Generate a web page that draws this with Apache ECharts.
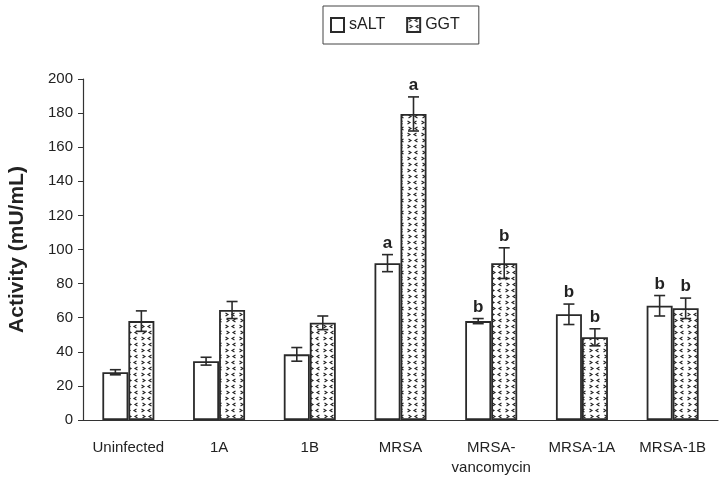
<!DOCTYPE html>
<html><head><meta charset="utf-8">
<script src="https://cdn.jsdelivr.net/npm/echarts@6/dist/echarts.min.js"></script>
<style>html,body{margin:0;padding:0;background:#fff}#c{width:724px;height:481px}</style>
</head><body><div id="c"></div>
<script>
const categories = ['Uninfected', '1A', '1B', 'MRSA', 'MRSA-\nvancomycin', 'MRSA-1A', 'MRSA-1B'];
const saltValues = [28, 34.5, 38.5, 92, 58, 62, 67];
const saltErrors = [1.5, 2.3, 4, 5, 1.5, 6, 6];
const ggtValues = [58, 64.5, 57, 179.5, 92, 48.5, 65.5];
const ggtErrors = [6, 5, 4, 10, 9, 5, 6];
const saltLetters = ['', '', '', 'a', 'b', 'b', 'b'];
const ggtLetters = ['', '', '', 'a', 'b', 'b', 'b'];
const yTicks = [0, 200, 20];

function makePattern() {
  const c = document.createElement('canvas');
  c.width = 14; c.height = 12;
  const g = c.getContext('2d');
  g.fillStyle = '#fff'; g.fillRect(0, 0, 14, 12);
  g.strokeStyle = '#222'; g.lineWidth = 1.1;
  g.beginPath();
  g.moveTo(1.5, 1); g.lineTo(4, 2.5); g.lineTo(1.5, 4);
  g.moveTo(10.5, 1); g.lineTo(8, 2.5); g.lineTo(10.5, 4);
  g.moveTo(11.5, 7); g.lineTo(9, 8.5); g.lineTo(11.5, 10);
  g.moveTo(2.5, 7); g.lineTo(5, 8.5); g.lineTo(2.5, 10);
  g.stroke();
  return c;
}
const pattern = { image: makePattern(), repeat: 'repeat' };
const BW = 26;

function errSeries(name, vals, errs, letters, offset) {
  return {
    type: 'custom', name: name + '_err', z: 5, silent: true,
    data: vals.map((v, i) => [i, v, errs[i]]),
    renderItem: function (params, api) {
      const i = api.value(0), v = api.value(1), e = api.value(2);
      const letter = letters[i];
      const c = api.coord([i, v]);
      const x = c[0] + offset;
      const top = api.coord([i, v + e])[1];
      const bot = api.coord([i, v - e])[1];
      const hw = 5.5;
      const st = { stroke: '#2a2a2a', lineWidth: 1.6 };
      const children = [
        { type: 'line', shape: { x1: x, y1: top, x2: x, y2: bot }, style: st },
        { type: 'line', shape: { x1: x - hw, y1: top, x2: x + hw, y2: top }, style: st },
        { type: 'line', shape: { x1: x - hw, y1: bot, x2: x + hw, y2: bot }, style: st }
      ];
      if (letter) {
        children.push({ type: 'text', style: { x: x, y: top - 3, text: letter, fill: '#222',
          font: 'bold 17px "Liberation Sans", Arial, sans-serif', align: 'center', verticalAlign: 'bottom' } });
      }
      return { type: 'group', children: children };
    }
  };
}

const chart = echarts.init(document.getElementById('c'), null, { renderer: 'canvas' });
chart.setOption({
  animation: false,
  backgroundColor: '#fff',
  textStyle: { fontFamily: '"Liberation Sans", Arial, sans-serif' },
  legend: {
    top: 6, left: 323,
    data: [{ name: 'sALT', icon: 'rect' }, { name: 'GGT', icon: 'rect' }],
    borderColor: '#444', borderWidth: 1, padding: [11, 19, 11, 7],
    itemWidth: 13, itemHeight: 14, itemGap: 21,
    textStyle: { fontSize: 16, color: '#222' }
  },
  grid: { left: 83, right: 6, top: 79, bottom: 61, containLabel: false, outerBoundsMode: 'none' },
  xAxis: {
    type: 'category', data: categories,
    axisLine: { lineStyle: { color: '#333', width: 1.2 } },
    axisTick: { alignWithLabel: false, length: 6, lineStyle: { color: '#333' } },
    axisLabel: { interval: 0, fontSize: 15, color: '#222', margin: 18, lineHeight: 20 }
  },
  yAxis: {
    type: 'value', min: yTicks[0], max: yTicks[1], interval: yTicks[2],
    name: 'Activity (mU/mL)', nameLocation: 'middle', nameGap: 55,
    nameTextStyle: { fontSize: 21, fontWeight: 'bold', color: '#222' },
    axisLine: { show: true, lineStyle: { color: '#333', width: 1.2 } },
    axisTick: { show: true, length: 5, lineStyle: { color: '#333' } },
    axisLabel: { fontSize: 15, color: '#222', margin: 10 },
    splitLine: { show: false }
  },
  series: [
    { name: 'sALT', type: 'bar', data: saltValues, barWidth: BW, barGap: '0%',
      itemStyle: { color: '#fff', borderColor: '#2a2a2a', borderWidth: 1.8 } },
    { name: 'GGT', type: 'bar', data: ggtValues, barWidth: BW, barGap: '0%',
      itemStyle: { color: pattern, borderColor: '#2a2a2a', borderWidth: 1.8 } },
    errSeries('sALT', saltValues, saltErrors, saltLetters, -BW / 2),
    errSeries('GGT', ggtValues, ggtErrors, ggtLetters, BW / 2)
  ]
});
</script></body></html>
